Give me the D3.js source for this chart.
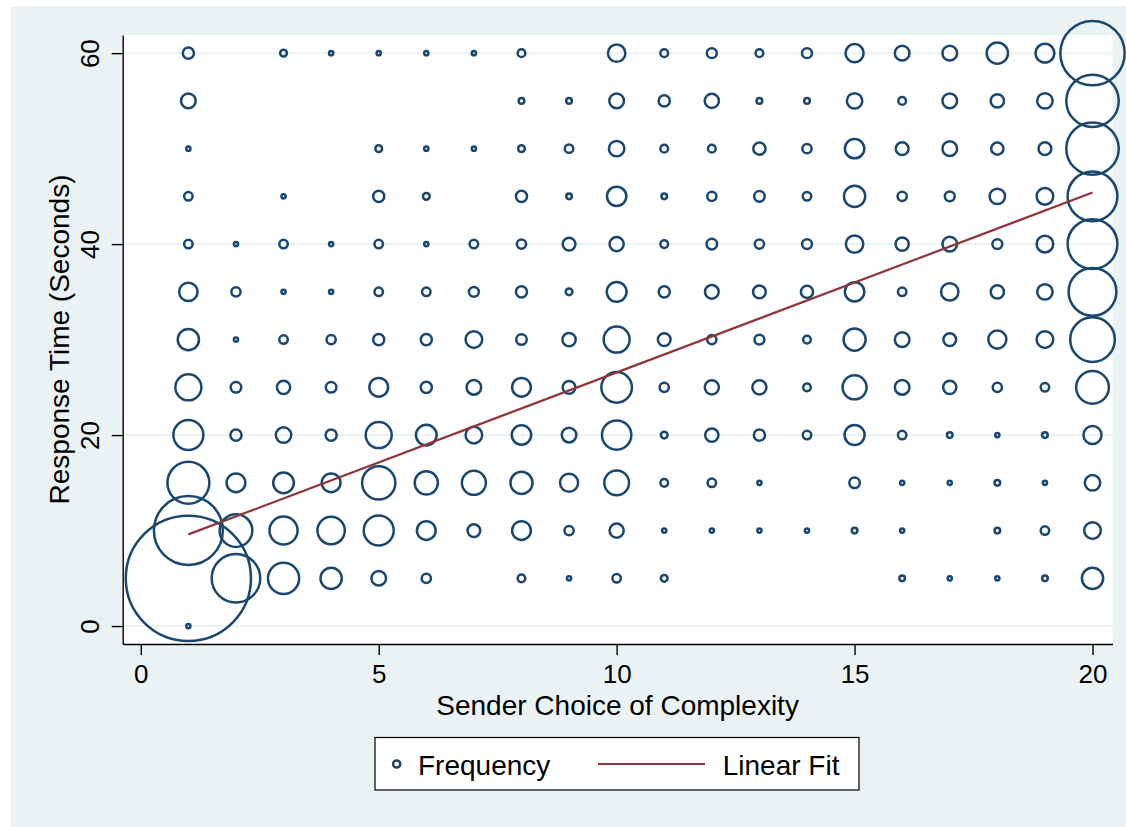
<!DOCTYPE html>
<html>
<head>
<meta charset="utf-8">
<script src="https://cdn.jsdelivr.net/npm/d3@7"></script>
<style>
  body { margin: 0; background: #fff; }
  text { font-family: "Liberation Sans", Arial, Helvetica, sans-serif; fill: #000; }
</style>
</head>
<body>
<script>
// categories
const complexity = [1, 2, 3, 4, 5, 6, 7, 8, 9, 10, 11, 12, 13, 14, 15, 16, 17, 18, 19, 20];
const responseTimes = [0, 5, 10, 15, 20, 25, 30, 35, 40, 45, 50, 55, 60];

// frequency per complexity level (1..20), one array per response time bin
const freqAt0  = [1, 0, 0, 0, 0, 0, 0, 0, 0, 0, 0, 0, 0, 0, 0, 0, 0, 0, 0, 0];
const freqAt5  = [1286, 190, 77, 35, 16, 6, 0, 4, 1, 5, 3, 0, 0, 0, 0, 2, 1, 1, 2, 35];
const freqAt10 = [386, 85, 62, 59, 71, 27, 12, 27, 6, 15, 1, 1, 1, 1, 2, 1, 0, 2, 5, 21];
const freqAt15 = [141, 27, 33, 27, 88, 42, 45, 38, 25, 48, 4, 5, 1, 0, 8, 1, 1, 2, 1, 18];
const freqAt20 = [71, 9, 18, 9, 53, 33, 21, 29, 16, 68, 3, 13, 9, 5, 31, 5, 2, 1, 2, 25];
const freqAt25 = [53, 8, 13, 8, 27, 9, 16, 27, 12, 74, 6, 15, 15, 4, 45, 16, 13, 6, 5, 85];
const freqAt30 = [35, 1, 5, 6, 9, 9, 21, 8, 13, 53, 12, 6, 7, 4, 38, 16, 12, 25, 21, 160];
const freqAt35 = [26, 6, 1, 1, 5, 5, 7, 9, 3, 30, 9, 14, 12, 11, 29, 5, 23, 13, 18, 184];
const freqAt40 = [5, 1, 5, 1, 5, 1, 5, 6, 12, 15, 4, 8, 6, 7, 23, 13, 16, 7, 21, 200];
const freqAt45 = [5, 0, 1, 0, 9, 3, 0, 9, 2, 29, 2, 6, 8, 5, 35, 6, 7, 18, 21, 200];
const freqAt50 = [1, 0, 0, 0, 3, 1, 1, 3, 5, 18, 4, 4, 11, 6, 29, 12, 16, 11, 12, 222];
const freqAt55 = [16, 0, 0, 0, 0, 0, 0, 2, 2, 16, 9, 15, 2, 2, 18, 4, 16, 13, 18, 222];
const freqAt60 = [9, 0, 3, 1, 1, 1, 1, 4, 0, 23, 4, 7, 4, 7, 25, 16, 16, 35, 27, 336];

// linear fit end points
const fitX = [1, 20];
const fitY = [9.6, 45.4];

// tick labels
const xTicks = [0, 5, 10, 15, 20];
const yTicks = [0, 20, 40, 60];

const freqRows = [freqAt0, freqAt5, freqAt10, freqAt15, freqAt20, freqAt25, freqAt30,
                  freqAt35, freqAt40, freqAt45, freqAt50, freqAt55, freqAt60];

const points = [];
responseTimes.forEach((t, i) => {
  complexity.forEach((c, j) => {
    const f = freqRows[i][j];
    if (f > 0) points.push({ x: c, y: t, f: f });
  });
});

const W = 1126, H = 827;
const navy = "#1a476f", maroon = "#90353b", bluish = "#eaf2f3";

const svg = d3.select("body").append("svg")
  .attr("width", W)
  .attr("height", H);

// outer graph region
svg.append("rect")
  .attr("x", 11).attr("y", 6)
  .attr("width", W - 11).attr("height", H - 6)
  .attr("fill", bluish);

const plot = { left: 122.7, right: 1112.5, top: 35, bottom: 644 };

svg.append("rect")
  .attr("x", plot.left).attr("y", plot.top)
  .attr("width", plot.right - plot.left).attr("height", plot.bottom - plot.top)
  .attr("fill", "#fff");

const x = d3.scaleLinear().domain([-0.38, 20.42]).range([plot.left, plot.right]);
const y = d3.scaleLinear().domain([-1.88, 61.9]).range([plot.bottom, plot.top]);
const r = d3.scaleSqrt().domain([1, 1286]).range([2.1, 62.6]);

// gridlines
svg.append("g").selectAll("line")
  .data(yTicks)
  .join("line")
  .attr("x1", plot.left).attr("x2", plot.right)
  .attr("y1", d => y(d)).attr("y2", d => y(d))
  .attr("stroke", bluish)
  .attr("stroke-width", 2);

// axes
const yAxis = svg.append("g")
  .attr("transform", `translate(${plot.left},0)`)
  .call(d3.axisLeft(y).tickValues(yTicks).tickSize(11).tickSizeOuter(0));
const xAxis = svg.append("g")
  .attr("transform", `translate(0,${plot.bottom})`)
  .call(d3.axisBottom(x).tickValues(xTicks).tickSize(11).tickSizeOuter(0));

[xAxis, yAxis].forEach(a => {
  a.select(".domain").attr("stroke", "#000").attr("stroke-width", 1.4);
  a.selectAll(".tick line").attr("stroke", "#000").attr("stroke-width", 1.4);
  a.selectAll(".tick text")
    .style("font-family", '"Liberation Sans", Arial, Helvetica, sans-serif')
    .style("font-size", "26px")
    .attr("fill", "#000");
});

xAxis.selectAll(".tick text")
  .attr("y", 39).attr("dy", 0);

yAxis.selectAll(".tick text")
  .attr("transform", "rotate(-90)")
  .attr("text-anchor", "middle")
  .attr("x", 0).attr("y", -23.5).attr("dy", 0);

// axis titles
svg.append("text")
  .attr("x", (plot.left + plot.right) / 2)
  .attr("y", 715)
  .attr("text-anchor", "middle")
  .style("font-size", "28px")
  .text("Sender Choice of Complexity");

svg.append("text")
  .attr("transform", `translate(68.5,${(plot.top + plot.bottom) / 2}) rotate(-90)`)
  .attr("text-anchor", "middle")
  .style("font-size", "28px")
  .text("Response Time (Seconds)");

// bubbles
svg.append("g").selectAll("circle")
  .data(points)
  .join("circle")
  .attr("cx", d => x(d.x))
  .attr("cy", d => y(d.y))
  .attr("r", d => r(d.f))
  .attr("fill", "none")
  .attr("stroke", navy)
  .attr("stroke-width", 2.5);

// linear fit
svg.append("path")
  .datum(fitX.map((v, i) => [v, fitY[i]]))
  .attr("d", d3.line().x(d => x(d[0])).y(d => y(d[1])))
  .attr("fill", "none")
  .attr("stroke", maroon)
  .attr("stroke-width", 2.2);

// legend
const legend = svg.append("g");
legend.append("rect")
  .attr("x", 375).attr("y", 737.5)
  .attr("width", 484).attr("height", 52.5)
  .attr("fill", "#fff")
  .attr("stroke", "#000")
  .attr("stroke-width", 1.2);
legend.append("circle")
  .attr("cx", 396.7).attr("cy", 764)
  .attr("r", 3.6)
  .attr("fill", "none")
  .attr("stroke", navy)
  .attr("stroke-width", 2.5);
legend.append("text")
  .attr("x", 418).attr("y", 775)
  .style("font-size", "28px")
  .text("Frequency");
legend.append("line")
  .attr("x1", 598).attr("x2", 705)
  .attr("y1", 764).attr("y2", 764)
  .attr("stroke", maroon)
  .attr("stroke-width", 2.2);
legend.append("text")
  .attr("x", 722.7).attr("y", 775)
  .style("font-size", "28px")
  .text("Linear Fit");
</script>
</body>
</html>
